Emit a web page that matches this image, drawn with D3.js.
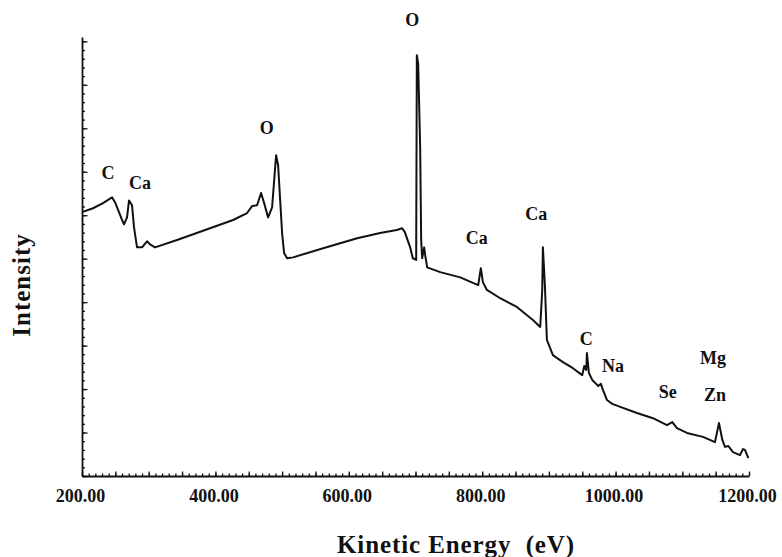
<!DOCTYPE html>
<html>
<head>
<meta charset="utf-8">
<script src="https://cdn.jsdelivr.net/npm/d3@7"></script>
<style>
  body { margin: 0; background: #fff; }
  svg text { font-family: "Liberation Serif", "DejaVu Serif", serif; font-weight: bold; fill: #111; }
</style>
</head>
<body>
<svg width="782" height="557"></svg>
<script>
// spectrum: kinetic energy (eV) and intensity (arb. units)
const energy = [200, 216.5, 231.5, 245, 249.5, 260, 263, 267.5, 270.5, 275, 278, 282.5, 290, 297.5, 302, 309.5,
  342.5, 392, 426.5, 447.5, 455, 462.5, 468.5, 473, 479, 485, 491, 494, 500, 503, 507.5, 516.5,
  561.5, 612.5, 647, 672, 680, 684, 692, 696, 701, 702, 704, 707, 708.5, 710, 713, 714.5, 717.5,
  737, 767, 794, 798, 801, 807, 827, 852, 876, 887, 890, 891, 894, 897, 906, 921, 936, 950,
  953, 956, 957, 960, 965, 974, 978, 981, 987, 995, 1007, 1032, 1056, 1077, 1085, 1092, 1107,
  1131, 1149, 1155, 1160, 1164, 1169, 1176, 1186.5, 1191, 1194, 1199];
const intensity = [6.07, 6.16, 6.28, 6.41, 6.30, 5.89, 5.79, 5.95, 6.34, 6.23, 5.72, 5.26, 5.26, 5.40, 5.33, 5.26,
  5.43, 5.70, 5.89, 6.05, 6.21, 6.23, 6.51, 6.28, 5.95, 6.18, 7.38, 7.15, 5.59, 5.13, 5.01, 5.03,
  5.24, 5.47, 5.59, 5.66, 5.70, 5.61, 5.26, 5.01, 4.97, 9.68, 9.49, 7.56, 5.43, 5.01, 5.26, 5.08, 4.80,
  4.69, 4.57, 4.39, 4.78, 4.46, 4.28, 4.09, 3.89, 3.59, 3.43, 4.28, 5.26, 4.39, 3.13, 2.78, 2.62, 2.48, 2.32,
  2.53, 2.44, 2.83, 2.37, 2.21, 2.07, 2.12, 1.98, 1.75, 1.66, 1.59, 1.45, 1.33, 1.17, 1.24, 1.10, 0.99,
  0.90, 0.78, 1.22, 0.83, 0.67, 0.69, 0.55, 0.48, 0.62, 0.60, 0.41];

// peak labels, anchored in data units
const peakNames  = ["C", "Ca", "O", "O", "Ca", "Ca", "C", "Na", "Se", "Mg", "Zn"];
const peakEnergy = [239, 287, 477, 695, 792, 881, 956, 996, 1078, 1146, 1149];
const peakLevel  = [6.83, 6.60, 7.87, 10.35, 5.34, 5.89, 3.01, 2.39, 1.79, 2.58, 1.73];

const xTicks = [200, 400, 600, 800, 1000, 1200];

const svg = d3.select("svg");
const x = d3.scaleLinear().domain([200, 1200]).range([82, 749]);
const y = d3.scaleLinear().domain([0, 10.1]).range([476, 37]);

const data = energy.map((e, i) => [e, intensity[i]]);

// minor ticks first, then the major ones with the axis line
svg.append("g")
   .attr("transform", `translate(0,${y(0)})`)
   .call(d3.axisBottom(x).tickValues(d3.range(200, 1201, 10)).tickSize(-2.5).tickFormat(""))
   .call(g => g.select(".domain").remove());

svg.append("g")
   .attr("transform", `translate(${x(200)},0)`)
   .call(d3.axisRight(y).tickValues(d3.range(0, 10.01, 0.2)).tickSize(3).tickFormat(""))
   .call(g => g.select(".domain").remove());

let xAxis = svg.append("g")
   .attr("transform", `translate(0,${y(0)})`)
   .call(d3.axisBottom(x).tickValues(d3.range(200, 1201, 50)).tickSize(-4.5).tickSizeOuter(0).tickPadding(13)
     .tickFormat(d => xTicks.includes(d) ? d3.format(".2f")(d) : ""));
xAxis.selectAll("text").style("font-size", "18px").attr("dx", "-2px");

svg.append("g")
   .attr("transform", `translate(${x(200)},0)`)
   .call(d3.axisRight(y).tickValues(d3.range(0, 11)).tickSize(5.5).tickSizeOuter(0).tickFormat(""));

svg.selectAll(".domain").attr("stroke", "#111").attr("stroke-width", 1.8);
svg.selectAll(".tick line").attr("stroke", "#111").attr("stroke-width", 1.3);

svg.append("path")
   .datum(data)
   .attr("fill", "none")
   .attr("stroke", "#111")
   .attr("stroke-width", 2)
   .attr("stroke-linejoin", "round")
   .attr("d", d3.line().x(d => x(d[0])).y(d => y(d[1])));

svg.selectAll(".peak")
   .data(peakNames)
   .enter()
   .append("text")
     .attr("class", "peak")
     .attr("x", (d, i) => x(peakEnergy[i]))
     .attr("y", (d, i) => y(peakLevel[i]))
     .attr("text-anchor", "middle")
     .style("font-size", "18px")
     .text(d => d);

svg.append("text")
   .attr("x", 456)
   .attr("y", 553)
   .attr("text-anchor", "middle")
   .style("font-size", "25px")
   .style("letter-spacing", "0.9px")
   .text("Kinetic Energy\u00a0 (eV)");

svg.append("text")
   .attr("transform", "translate(30,285) rotate(-90)")
   .attr("text-anchor", "middle")
   .style("font-size", "25px")
   .style("letter-spacing", "1px")
   .text("Intensity");
</script>
</body>
</html>
